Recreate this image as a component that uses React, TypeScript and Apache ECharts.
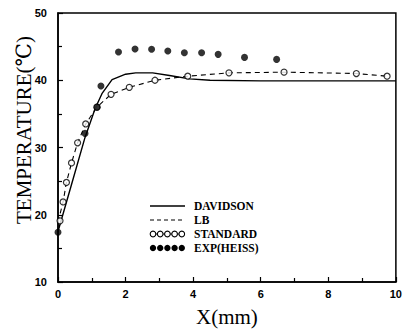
import React, { useEffect, useRef } from "react";
import * as echarts from "echarts";

const davidsonX = [0, 0.4, 0.8, 1.1, 1.3, 1.6, 2.0, 2.3, 2.8, 3.3, 3.9, 4.5, 6, 8, 10];
const davidsonT = [17.5, 24.5, 31.5, 35.8, 38, 40.1, 40.9, 41.1, 41.1, 40.7, 40.2, 40.0, 39.9, 39.9, 39.9];

const standardX = [0.06, 0.15, 0.25, 0.4, 0.58, 0.82, 1.15, 1.57, 2.11, 2.87, 3.84, 5.06, 6.69, 8.83, 9.74];
const standardT = [19.1, 21.9, 24.8, 27.7, 30.7, 33.5, 36.0, 37.9, 38.95, 40.0, 40.6, 41.1, 41.2, 41.0, 40.6];

const lbX = [0, 0.15, 0.25, 0.4, 0.58, 0.82, 1.15, 1.57, 2.11, 2.87, 3.84, 5.06, 6.69, 8.83, 9.74];
const lbT = [18.9, 21.9, 24.8, 27.7, 30.7, 33.5, 36.0, 37.9, 38.95, 40.0, 40.6, 41.1, 41.2, 41.0, 40.6];

const expX = [0, 0.8, 1.16, 1.27, 1.79, 2.28, 2.77, 3.25, 3.74, 4.25, 4.74, 5.52, 6.47];
const expT = [17.4, 32.1, 36.0, 39.15, 44.2, 44.65, 44.6, 44.35, 44.1, 44.1, 43.85, 43.4, 43.1];

const legendNames = ["DAVIDSON", "LB", "STANDARD", "EXP(HEISS)"];
const xTicks = [0, 2, 4, 6, 8, 10];
const yTicks = [10, 20, 30, 40, 50];

const zip = (xs: number[], ys: number[]) => xs.map((x, i) => [x, ys[i]]);

export default function App() {
  const ref = useRef<HTMLDivElement>(null);
  useEffect(() => {
    if (!ref.current) return;
    const chart = echarts.init(ref.current, null, { renderer: "svg" });
    const legX0 = 150;
    const legX1 = 185;
    const legTextX = 194;
    const rows = [206, 220, 234, 248];
    const legendGraphics: any[] = [];
    legendGraphics.push({ type: "line", shape: { x1: legX0, y1: rows[0], x2: legX1, y2: rows[0] }, style: { stroke: "#000", lineWidth: 1.3 } });
    legendGraphics.push({ type: "line", shape: { x1: legX0, y1: rows[1], x2: legX1, y2: rows[1] }, style: { stroke: "#000", lineWidth: 1.1, lineDash: [4, 3] } });
    legendGraphics.push({ type: "line", shape: { x1: legX0, y1: rows[2], x2: legX1, y2: rows[2] }, style: { stroke: "#000", lineWidth: 1 } });
    for (let i = 0; i < 5; i++) {
      const cx = legX0 + 3 + i * 7.2;
      legendGraphics.push({ type: "circle", shape: { cx, cy: rows[2], r: 2.8 }, style: { fill: "#fff", stroke: "#000", lineWidth: 1.1 } });
      legendGraphics.push({ type: "circle", shape: { cx, cy: rows[3], r: 3.2 }, style: { fill: "#000" } });
    }
    legendNames.forEach((n, i) => {
      legendGraphics.push({
        type: "text",
        x: legTextX,
        y: rows[i],
        style: { text: n, fill: "#000", font: "bold 11.5px 'Liberation Serif'", verticalAlign: "middle" },
      });
    });
    legendGraphics.push({
      type: "text",
      x: 24,
      y: 130,
      rotation: Math.PI / 2,
      style: { text: "TEMPERATURE(℃)", fill: "#000", font: "21px 'Liberation Serif', 'DejaVu Serif'", align: "center", verticalAlign: "middle" },
    });

    chart.setOption({
      animation: false,
      backgroundColor: "#fff",
      grid: { left: 58, right: 5, top: 13, bottom: 50, show: true, borderColor: "#000", borderWidth: 1.5, backgroundColor: "transparent" },
      xAxis: {
        type: "value",
        min: xTicks[0],
        max: xTicks[xTicks.length - 1],
        interval: 2,
        name: "X(mm)",
        nameLocation: "middle",
        nameGap: 24,
        nameTextStyle: { fontFamily: "Liberation Serif", fontSize: 21, color: "#000" },
        axisLine: { lineStyle: { color: "#000", width: 1.5 } },
        axisTick: { inside: true, length: 5, lineStyle: { color: "#000", width: 1.2 } },
        minorTick: { show: true, splitNumber: 2, length: 4, lineStyle: { color: "#000", width: 1.2 } },
        splitLine: { show: false },
        axisLabel: { color: "#000", fontFamily: "Liberation Sans", fontWeight: "bold", fontSize: 11, margin: 6 },
      },
      yAxis: {
        type: "value",
        min: yTicks[0],
        max: yTicks[yTicks.length - 1],
        interval: 10,
        axisLine: { show: true, lineStyle: { color: "#000", width: 1.5 } },
        axisTick: { show: true, inside: true, length: 5, lineStyle: { color: "#000", width: 1.2 } },
        minorTick: { show: true, splitNumber: 2, length: 4, lineStyle: { color: "#000", width: 1.2 } },
        splitLine: { show: false },
        axisLabel: { color: "#000", fontFamily: "Liberation Sans", fontWeight: "bold", fontSize: 11, margin: 11 },
      },
      graphic: legendGraphics,
      series: [
        {
          name: "DAVIDSON",
          type: "line",
          data: zip(davidsonX, davidsonT),
          showSymbol: false,
          symbol: "none",
          lineStyle: { color: "#000", width: 1.4 },
          z: 3,
        },
        {
          name: "LB",
          type: "line",
          data: zip(lbX, lbT),
          showSymbol: false,
          symbol: "none",
          lineStyle: { color: "#000", width: 1.1, type: [5, 4] },
          z: 3,
        },
        {
          name: "STANDARD",
          type: "scatter",
          data: zip(standardX, standardT),
          symbol: "circle",
          symbolSize: 6,
          itemStyle: { color: "#fff", borderColor: "#000", borderWidth: 1.2 },
          z: 4,
        },
        {
          name: "EXP(HEISS)",
          type: "scatter",
          data: zip(expX, expT),
          symbol: "circle",
          symbolSize: 7,
          itemStyle: { color: "#000" },
          z: 5,
        },
      ],
    });
    return () => chart.dispose();
  }, []);
  return <div ref={ref} style={{ width: 405, height: 332, position: "absolute", left: 0, top: 0 }} />;
}
